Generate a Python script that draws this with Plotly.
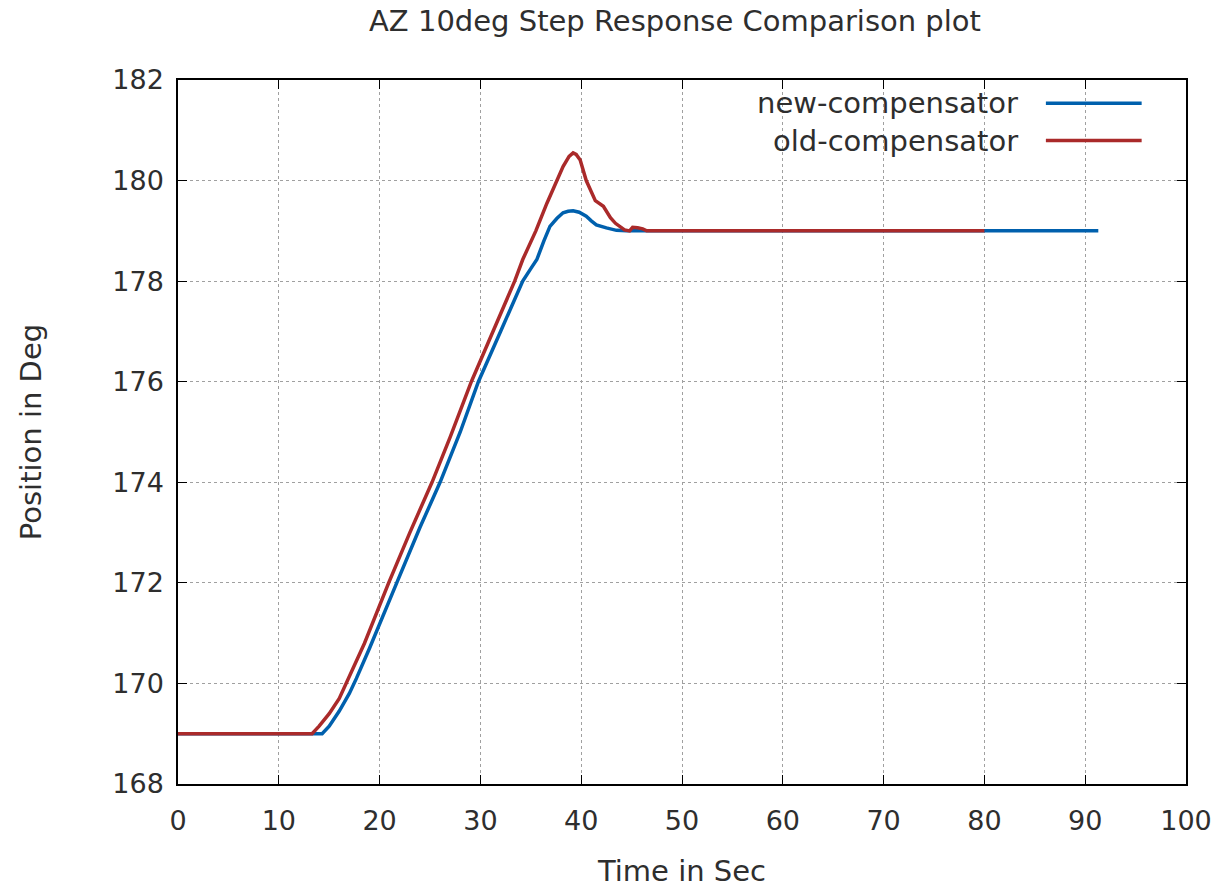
import plotly.graph_objects as go

# ---- data ----
new_t = [0, 14.3, 15.0, 16.0, 17.0, 17.7, 19.0, 20.5, 21.7, 24.0, 26.0, 28.0, 29.8,
         32.0, 34.2, 35.0, 35.6, 36.3, 36.9, 37.6, 38.2, 38.7, 39.2, 39.8, 40.5,
         41.0, 41.5, 42.5, 43.5, 44.5, 60.0, 80.0, 91.3]
new_y = [169.0, 169.0, 169.15, 169.45, 169.8, 170.1, 170.7, 171.4, 172.0, 173.1, 174.0,
         175.0, 176.0, 177.0, 178.0, 178.25, 178.43, 178.8, 179.09, 179.25, 179.36,
         179.39, 179.4, 179.37, 179.29, 179.2, 179.12, 179.06, 179.01, 179.0, 179.0,
         179.0, 179.0]

old_t = [0, 13.3, 14.0, 15.0, 16.0, 16.9, 18.5, 20.9, 23.0, 25.2, 27.0, 29.1, 31.0,
         33.4, 34.2, 35.5, 36.6, 37.4, 38.2, 38.8, 39.2, 39.5, 39.9, 40.5, 41.4,
         42.2, 42.9, 43.4, 43.85, 44.3, 44.8, 45.1, 45.6, 46.1, 46.5, 60.0, 80.0]
old_y = [169.0, 169.0, 169.15, 169.4, 169.7, 170.1, 170.8, 172.0, 173.0, 174.0, 174.9,
         176.0, 176.9, 178.0, 178.43, 179.0, 179.55, 179.9, 180.28, 180.48, 180.55,
         180.52, 180.41, 180.0, 179.6, 179.49, 179.26, 179.15, 179.09, 179.02, 179.0,
         179.07, 179.06, 179.04, 179.0, 179.0, 179.0]

x_ticks = [0, 10, 20, 30, 40, 50, 60, 70, 80, 90, 100]
y_ticks = [168, 170, 172, 174, 176, 178, 180, 182]

series_names = ["new-compensator", "old-compensator"]
series_colors = ["#0060ad", "#aa2a2a"]

FONT = "DejaVu Sans"
FS_TICK = 27
FS = 29
TXT = "#2e2e2e"

fig = go.Figure()
fig.add_trace(go.Scatter(x=new_t, y=new_y, mode="lines", name=series_names[0],
                         line=dict(color=series_colors[0], width=3.5), showlegend=False))
fig.add_trace(go.Scatter(x=old_t, y=old_y, mode="lines", name=series_names[1],
                         line=dict(color=series_colors[1], width=3.5), showlegend=False))

axis_common = dict(
    showline=True, linecolor="black", linewidth=1.5, mirror="ticks",
    ticks="inside", ticklen=9, tickcolor="black", tickwidth=1,
    showgrid=True, gridcolor="#a0a0a0", griddash="dot", gridwidth=1,
    zeroline=False, tickfont=dict(family=FONT, size=FS_TICK, color=TXT),
)

fig.update_xaxes(range=[0, 100], tickvals=x_ticks, ticktext=[str(v) for v in x_ticks],
                 title=dict(text="Time in Sec", font=dict(family=FONT, size=FS, color=TXT),
                            standoff=26),
                 ticklabelstandoff=12, **axis_common)
fig.update_yaxes(range=[168, 182], tickvals=y_ticks, ticktext=[str(v) for v in y_ticks],
                 title=dict(text="Position in Deg", font=dict(family=FONT, size=FS, color=TXT),
                            standoff=62),
                 ticklabelstandoff=7, **axis_common)

# legend drawn gnuplot-style (text right-aligned, sample line to the right)
leg_y = [0.967, 0.914]
for name, color, yy in zip(series_names, series_colors, leg_y):
    fig.add_annotation(x=0.835, y=yy, xref="paper", yref="paper", text=name,
                       showarrow=False, xanchor="right", yanchor="middle",
                       font=dict(family=FONT, size=FS, color=TXT))
    fig.add_shape(type="line", xref="paper", yref="paper", x0=0.861, x1=0.956,
                  y0=yy, y1=yy, line=dict(color=color, width=3.5))

fig.update_layout(
    width=1225, height=894,
    margin=dict(l=178, r=39, t=80, b=108),
    paper_bgcolor="white", plot_bgcolor="white",
    title=dict(text="AZ 10deg Step Response Comparison plot", x=0.551, xanchor="center",
               y=0.977, yanchor="middle", font=dict(family=FONT, size=FS, color=TXT)),
)

fig.write_html("out.html")
